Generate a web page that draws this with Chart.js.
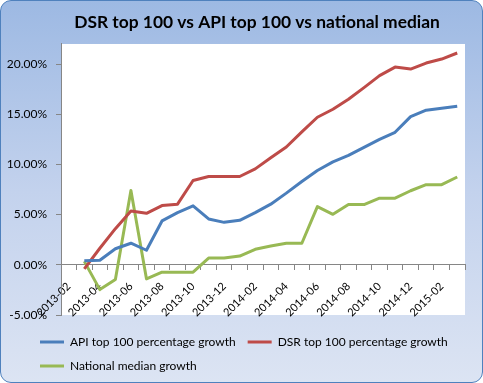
<!DOCTYPE html>
<html>
<head>
<meta charset="utf-8">
<script src="https://cdn.jsdelivr.net/npm/chart.js@4/dist/chart.umd.min.js"></script>
<style>
  html, body { margin: 0; padding: 0; background: #ffffff; }
  #wrap {
    position: absolute; left: 0; top: 0; width: 481px; height: 381px;
    border: 1px solid #4F81BD; border-radius: 11px;
    background: linear-gradient(to bottom, #9DB9E3 0%, #C3D2ED 50%, #DCE4F3 100%);
    overflow: hidden;
  }
  #c { position: absolute; left: -1px; top: -1px; }
</style>
</head>
<body>
<div id="wrap"><canvas id="c" width="483" height="383"></canvas></div>
<script>
const categories = ['2013-02','2013-03','2013-04','2013-05','2013-06','2013-07','2013-08','2013-09','2013-10','2013-11','2013-12',
  '2014-01','2014-02','2014-03','2014-04','2014-05','2014-06','2014-07','2014-08','2014-09','2014-10','2014-11','2014-12',
  '2015-01','2015-02','2015-03'];
const apiGrowth = [null, 0.004, 0.0045, 0.016, 0.0215, 0.0145, 0.0437, 0.052, 0.0587, 0.0457, 0.0423, 0.0443, 0.052, 0.0604,
  0.0714, 0.083, 0.094, 0.1026, 0.109, 0.117, 0.125, 0.132, 0.1476, 0.154, 0.156, 0.158];
const dsrGrowth = [null, -0.004, 0.0165, 0.036, 0.0537, 0.0513, 0.059, 0.0604, 0.084, 0.088, 0.088, 0.088, 0.0956, 0.1067,
  0.1174, 0.1325, 0.147, 0.155, 0.165, 0.1765, 0.1885, 0.197, 0.195, 0.201, 0.205, 0.211];
const medianGrowth = [null, 0.0034, -0.0247, -0.0147, 0.074, -0.014, -0.0073, -0.0073, -0.0073, 0.0067, 0.0067, 0.0087,
  0.0155, 0.0188, 0.0215, 0.0215, 0.058, 0.0503, 0.06, 0.06, 0.0664, 0.0664, 0.0738, 0.0798, 0.0798, 0.0875];
const seriesNames = ['API top 100 percentage growth', 'DSR top 100 percentage growth', 'National median growth'];
const yTicks = [-0.05, 0, 0.05, 0.10, 0.15, 0.20];
const titleText = 'DSR top 100 vs API top 100 vs national median';

const FONT = 'Lato, "Open Sans", sans-serif';

const plotBg = {
  id: 'plotBg',
  afterLayout(chart) {
    if (chart.legend) { chart.legend.left = 28; }
    if (chart.titleBlock) { chart.titleBlock.left = chart.chartArea.left - 12; }
  },
  beforeDraw(chart) {
    const {ctx, chartArea: a} = chart;
    ctx.save();
    ctx.fillStyle = '#ffffff';
    ctx.fillRect(a.left, a.top, a.right - a.left, a.bottom - a.top);
    ctx.restore();
  }
};

function ds(label, data, color) {
  return { label, data, borderColor: color, backgroundColor: color, borderWidth: 3,
    pointRadius: 0, pointHoverRadius: 0, fill: false, tension: 0, borderJoinStyle: 'round', borderCapStyle: 'butt' };
}

new Chart(document.getElementById('c'), {
  type: 'line',
  data: {
    labels: categories,
    datasets: [
      ds(seriesNames[0], apiGrowth, '#4A7EBB'),
      ds(seriesNames[1], dsrGrowth, '#BE4B48'),
      ds(seriesNames[2], medianGrowth, '#98B954')
    ]
  },
  options: {
    responsive: false,
    animation: false,
    devicePixelRatio: 1,
    layout: { padding: { left: 0, right: 18, top: 0, bottom: 1 } },
    plugins: {
      title: {
        display: true, text: titleText, fullSize: false,
        color: '#000000',
        font: { family: FONT, size: 17.4, weight: 'bold' },
        padding: { top: 11.5, bottom: 11.6 }
      },
      legend: {
        position: 'bottom', align: 'start',
        title: { display: true, text: ' ', font: { size: 1 }, padding: 3.9 },
        labels: {
          color: '#000000',
          font: { family: FONT, size: 12 },
          boxWidth: 24, boxHeight: 3, padding: 12,
          generateLabels(chart) {
            const items = Chart.defaults.plugins.legend.labels.generateLabels(chart);
            items.forEach(i => { i.lineWidth = 0; });
            return items;
          }
        }
      },
      tooltip: { enabled: false }
    },
    scales: {
      x: {
        type: 'category',
        position: { y: 0 },
        offset: true,
        grid: { display: true, offset: true, drawOnChartArea: false, drawTicks: true, tickLength: 5, color: '#868686', lineWidth: 1 },
        border: { display: true, color: '#868686', width: 1 },
        ticks: {
          autoSkip: false, minRotation: 45, maxRotation: 45, padding: 10,
          color: '#000000', font: { family: FONT, size: 11 },
          callback(value, index) { return index % 2 === 0 ? categories[index] : ''; }
        }
      },
      y: {
        min: yTicks[0], max: 0.22,
        afterFit(scale) { scale.width = 61; },
        afterBuildTicks(scale) { scale.ticks = yTicks.map(v => ({ value: v })); },
        grid: { display: true, drawOnChartArea: false, drawTicks: true, tickLength: 5, color: '#868686' },
        border: { display: true, color: '#868686', width: 1 },
        ticks: {
          padding: 9, color: '#000000', font: { family: FONT, size: 12 },
          callback(v) { return (v * 100).toFixed(2) + '%'; }
        }
      }
    }
  },
  plugins: [plotBg]
});
</script>
</body>
</html>
